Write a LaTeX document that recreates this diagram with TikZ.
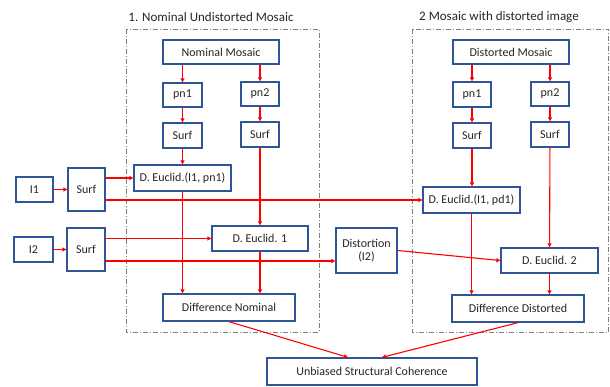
\documentclass[tikz,border=0pt]{standalone}
\usepackage{fontspec}
\setmainfont{Carlito}
\usepackage{tikz}
\usetikzlibrary{arrows.meta}
\definecolor{boxblue}{HTML}{2F5597}
\definecolor{linkred}{HTML}{FF0000}
\definecolor{groupgray}{HTML}{7F7F7F}

\begin{document}
\begin{tikzpicture}[x=1pt, y=-1pt,
  box/.style={draw=boxblue, line width=1.3pt, fill=white, inner sep=0pt, align=center,
    text=black!85, font=\fontsize{12}{13.5}\selectfont},
  link/.style={->, >={Triangle[length=4pt,width=4pt]}, draw=linkred, line width=1.1pt},
  group/.style={draw=groupgray, line width=0.8pt, dash pattern=on 5pt off 2pt on 1pt off 2pt},
  title/.style={text=black!85, font=\fontsize{13}{15}\selectfont}]
\useasboundingbox (0,0) rectangle (610,387);

% Groups
\draw[group] (126,29) rectangle (319,332);
\node[title] (nomTitle) at (211,17) {1. Nominal Undistorted Mosaic};
\draw[group] (412,29) rectangle (608.5,332);
\node[title] (disTitle) at (499,17) {2 Mosaic with distorted image};

% Nominal branch
\node[box, minimum width=116, minimum height=24] (nomMosaic) at (221,52) {Nominal Mosaic};
\node[box, minimum width=39, minimum height=24] (nomPn1) at (182.5,95) {pn1};
\node[box, minimum width=38, minimum height=24] (nomPn2) at (260,94) {pn2};
\node[box, minimum width=39, minimum height=25] (nomSurf1) at (182.5,135.5) {Surf};
\node[box, minimum width=38, minimum height=25] (nomSurf2) at (260,134.5) {Surf};
\node[box, minimum width=97, minimum height=26] (nomEuc1) at (182.5,178) {D. Euclid.(I1, pn1)};
\node[box, minimum width=96, minimum height=25] (nomEuc2) at (260,238.5) {D. Euclid. 1};
\node[box, minimum width=132, minimum height=27] (nomDiff) at (229,307.5) {Difference Nominal};

% Distorted branch
\node[box, minimum width=116, minimum height=24] (disMosaic) at (511,52) {Distorted Mosaic};
\node[box, minimum width=38, minimum height=25] (disPn1) at (472,94.5) {pn1};
\node[box, minimum width=38, minimum height=24] (disPn2) at (550,94) {pn2};
\node[box, minimum width=38, minimum height=25] (disSurf1) at (472,135.5) {Surf};
\node[box, minimum width=38, minimum height=25] (disSurf2) at (550,134.5) {Surf};
\node[box, minimum width=97, minimum height=26] (disEuc1) at (471.5,200) {D. Euclid.(I1, pd1)};
\node[box, minimum width=97, minimum height=25] (disEuc2) at (549.5,260.5) {D. Euclid. 2};
\node[box, minimum width=132, minimum height=27] (disDiff) at (518,308.5) {Difference Distorted};
\node[box, minimum width=61, minimum height=45] (distort) at (366.5,250.5) {Distortion\\(I2)};

% Inputs
\node[box, minimum width=37, minimum height=25] (imgI1) at (34.5,189.5) {I1};
\node[box, minimum width=37, minimum height=43] (surfI1) at (86.5,189.5) {Surf};
\node[box, minimum width=39, minimum height=25] (imgI2) at (33.5,249.5) {I2};
\node[box, minimum width=38, minimum height=43] (surfI2) at (86,249.5) {Surf};

% Result
\node[box, minimum width=210, minimum height=27] (coherence) at (372,371.5) {Unbiased Structural Coherence};

% Links, nominal
\draw[link] (nomPn1 |- nomMosaic.south) -- (nomPn1.north);
\draw[link] (nomPn2 |- nomMosaic.south) -- (nomPn2.north);
\draw[link] (nomPn1) -- (nomSurf1);
\draw[link] (nomPn2) -- (nomSurf2);
\draw[link] (nomSurf1) -- (nomEuc1);
\draw[link] (nomSurf2) -- (nomEuc2);
\draw[link] (nomEuc1.south) -- (nomEuc1.south |- nomDiff.north);
\draw[link] (nomEuc2.south) -- (nomEuc2.south |- nomDiff.north);

% Links, distorted
\draw[link] (disPn1 |- disMosaic.south) -- (disPn1.north);
\draw[link] (disPn2 |- disMosaic.south) -- (disPn2.north);
\draw[link] (disPn1) -- (disSurf1);
\draw[link] (disPn2) -- (disSurf2);
\draw[link] (disSurf1.south) -- (disSurf1.south |- disEuc1.north);
\draw[link] (disSurf2) -- (disEuc2);
\draw[link] (disEuc1.south) -- (disEuc1.south |- disDiff.north);
\draw[link] (disEuc2.south) -- (disEuc2.south |- disDiff.north);
\draw[link] (distort.east) -- (disEuc2.west);

% Links, inputs
\draw[link] (imgI1) -- (surfI1);
\draw[link] (imgI2) -- (surfI2);
\draw[link] (surfI1.east |- nomEuc1.west) -- (nomEuc1.west);
\draw[link] (surfI1.east |- disEuc1.west) -- (disEuc1.west);
\draw[link] (surfI2.east |- nomEuc2.west) -- (nomEuc2.west);
\draw[link] ([yshift=-11.5pt]surfI2.east) -- ([yshift=-11.5pt]surfI2.east -| distort.west);

% Links, result
\draw[link] (nomDiff.south) -- ([xshift=-24pt]coherence.north);
\draw[link] (disDiff.south) -- ([xshift=10pt]coherence.north);
\end{tikzpicture}
\end{document}
